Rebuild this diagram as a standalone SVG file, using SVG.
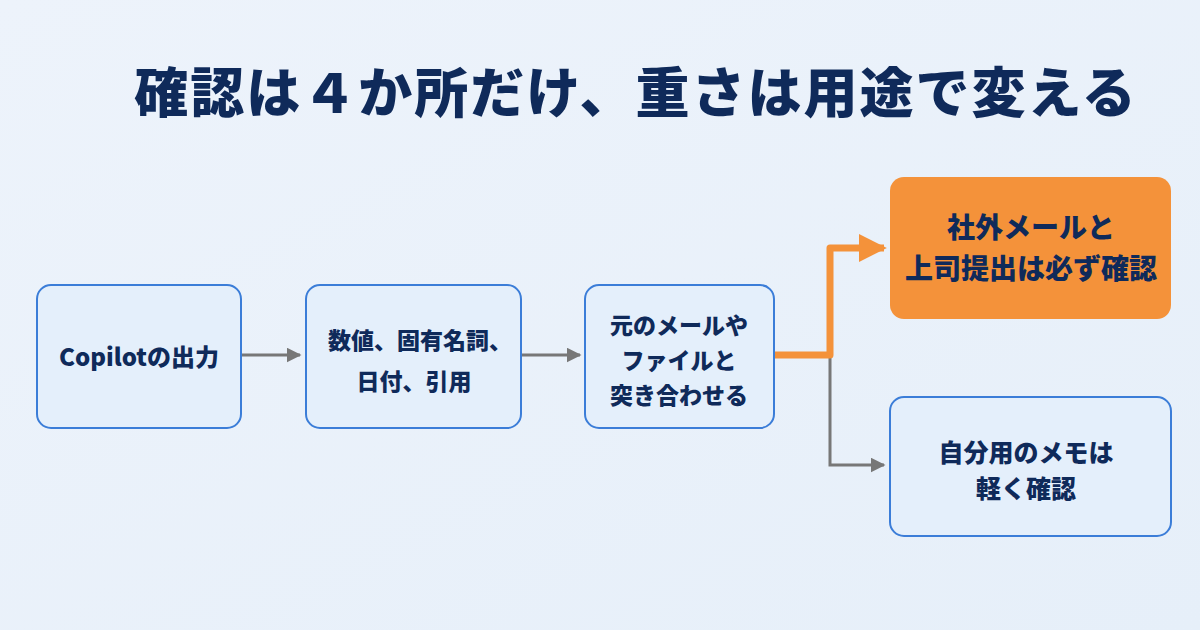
<svg xmlns="http://www.w3.org/2000/svg" width="1200" height="630" viewBox="0 0 1200 630">
<defs>
<linearGradient id="bg" x1="0" y1="0" x2="1" y2="1">
<stop offset="0" stop-color="#edf3fb"/>
<stop offset="1" stop-color="#e6eff9"/>
</linearGradient>
<marker id="ag" viewBox="0 0 10 10" refX="9" refY="5" markerWidth="5" markerHeight="5" markerUnits="strokeWidth" orient="auto">
<path d="M0,0 L10,5 L0,10 z" fill="#777"/>
</marker>
<marker id="ao" viewBox="0 0 10 10" refX="9" refY="5" markerWidth="4" markerHeight="4.5" markerUnits="strokeWidth" orient="auto">
<path d="M0,0 L10,5 L0,10 z" fill="#f4923a"/>
</marker>
</defs>
<style>
.box{fill:#e4effb;stroke:#3b7dd8;stroke-width:2}
.hot{fill:#f4923a}
.t{font-family:"Noto Sans CJK JP","Noto Sans",sans-serif;font-weight:900;fill:#0f2a5a;text-anchor:middle}
.n{font-size:23px}
.g{fill:none;stroke:#777;stroke-width:3}
.o{fill:none;stroke:#f4923a;stroke-width:7;stroke-linejoin:round}
</style>
<rect width="1200" height="630" fill="url(#bg)"/>
<text class="t" x="636" y="113" font-size="54" letter-spacing="2">確認は４か所だけ、重さは用途で変える</text>
<g id="connectors">
<path class="g" d="M241,355 H300" marker-end="url(#ag)"/>
<path class="g" d="M521,355 H580" marker-end="url(#ag)"/>
<path class="g" d="M830,355 V465 H884" marker-end="url(#ag)"/>
<path class="o" d="M774,355 H830 V248 H884" marker-end="url(#ao)"/>
</g>
<g id="n1">
<rect class="box" x="37" y="285" width="204" height="143" rx="14"/>
<text class="t" x="139" y="366" font-size="24">Copilotの出力</text>
</g>
<g id="n2">
<rect class="box" x="306" y="285" width="215" height="143" rx="14"/>
<text class="t n" x="420" y="349">数値、固有名詞、</text>
<text class="t n" x="414" y="390">日付、引用</text>
</g>
<g id="n3">
<rect class="box" x="585" y="285" width="189" height="143" rx="14"/>
<text class="t n" x="679" y="334">元のメールや</text>
<text class="t n" x="679" y="369">ファイルと</text>
<text class="t n" x="679" y="404">突き合わせる</text>
</g>
<g id="n4">
<rect class="hot" x="890" y="177" width="281" height="142" rx="14"/>
<text class="t" x="1031" y="238" font-size="28">社外メールと</text>
<text class="t" x="1031" y="279" font-size="28">上司提出は必ず確認</text>
</g>
<g id="n5">
<rect class="box" x="890" y="397" width="281" height="139" rx="14"/>
<text class="t" x="1026" y="462" font-size="25">自分用のメモは</text>
<text class="t" x="1026" y="498" font-size="25">軽く確認</text>
</g>
</svg>
